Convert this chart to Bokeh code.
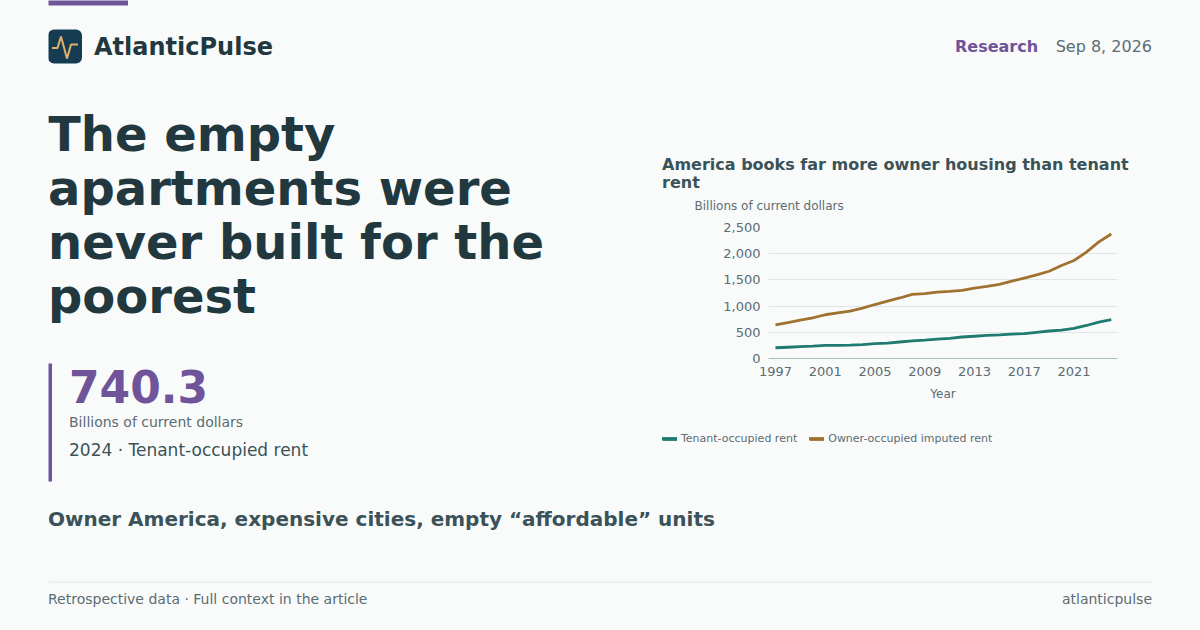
from bokeh.core.properties import value
from bokeh.embed import file_html
from bokeh.layouts import column
from bokeh.models import FixedTicker, GlobalInlineStyleSheet, Legend, LegendItem, NumeralTickFormatter, Range1d
from bokeh.plotting import figure
from bokeh.resources import INLINE

years = list(range(1997, 2025))
tenant_rent = [205, 215, 225, 235, 250, 252, 255, 265, 285, 295, 315, 335, 350, 370,
               385, 410, 425, 440, 450, 465, 475, 500, 525, 540, 575, 630, 695, 740.3]
owner_rent = [640, 685, 730, 775, 835, 870, 905, 960, 1030, 1095, 1155, 1225, 1240, 1265,
              1280, 1300, 1345, 1375, 1415, 1475, 1535, 1595, 1665, 1775, 1870, 2030, 2225, 2375]
year_ticks = [1997, 2001, 2005, 2009, 2013, 2017, 2021]
value_ticks = [0, 500, 1000, 1500, 2000, 2500]

headline = ["The empty", "apartments were", "never built for the", "poorest"]
chart_title = ["America books far more owner housing than tenant", "rent"]

BG = "#f9fbfb"
INK = "#22383f"
SLATE = "#3a5258"
GREY = "#5b6c72"
PURPLE = "#6f5499"
TEAL = "#1f7a6f"
BROWN = "#a0722f"
FONT = "DejaVu Sans"


def page_text(p, x, y, text, size, color, style="normal", align="left"):
    p.text([x], [y], text=[text], text_font=value(FONT), text_font_size=size, text_color=color,
           text_font_style=style, text_align=align, text_baseline="middle")


# whole page as one figure in pixel coordinates, column() keeps its side borders equal to the chart's
page = figure(width=1200, height=630, x_range=Range1d(48.5, 1154.5), y_range=Range1d(631, 1),
              output_backend="svg", toolbar_location=None,
              min_border_left=48, min_border_right=46, min_border_top=0, min_border_bottom=0,
              background_fill_color=BG, border_fill_color=BG, outline_line_color=None)
page.axis.visible = False
page.grid.visible = False
page.stylesheets = [GlobalInlineStyleSheet(css="html, body {margin: 0; background: %s; overflow: hidden;}" % BG)]

page.quad(left=[48], right=[128], top=[0], bottom=[6], fill_color=PURPLE, line_color=None)
page.rect([65], [47], width=[34], height=[34], fill_color="#163c52", line_color=None, border_radius=6)
page.line([52, 57.5, 61, 67, 71, 78], [48.5, 48.5, 37, 59, 45, 45], line_color="#e0b26c", line_width=2)
page_text(page, 94, 47, "AtlanticPulse", "24px", INK, "bold")
page_text(page, 955, 47, "Research", "16px", PURPLE, "bold")
page_text(page, 1152, 47, "Sep 8, 2026", "16px", GREY, align="right")

for i, line in enumerate(headline):
    page_text(page, 48, 134 + 54 * i, line, "48px", INK, "bold")

page.quad(left=[48], right=[52], top=[364], bottom=[482], fill_color=PURPLE, line_color=None)
page_text(page, 69, 387, "740.3", "44px", PURPLE, "bold")
page_text(page, 69, 422, "Billions of current dollars", "14px", GREY)
page_text(page, 69, 450, "2024 · Tenant-occupied rent", "17px", SLATE)
page_text(page, 48, 519, "Owner America, expensive cities, empty “affordable” units", "20px", SLATE, "bold")

page.line([48, 1152], [582.5, 582.5], line_color="#e2e7e8", line_width=1)
page_text(page, 48, 599, "Retrospective data · Full context in the article", "14px", GREY)
page_text(page, 1152, 599, "atlanticpulse", "14px", GREY, align="right")

for i, line in enumerate(chart_title):
    page_text(page, 662, 165 + 18 * i, line, "16px", SLATE, "bold")
page_text(page, 694.5, 206, "Billions of current dollars", "12px", GREY)

# chart figure laid over the page
p = figure(width=443, height=188, x_range=Range1d(1996.44, 2024.5), y_range=Range1d(0, 2500),
           output_backend="svg", toolbar_location=None,
           min_border_left=48, min_border_right=46, min_border_top=7, min_border_bottom=50,
           background_fill_alpha=0, border_fill_alpha=0, outline_line_color=None,
           margin=(-410, 0, 0, 720))

p.line(years, tenant_rent, line_color=TEAL, line_width=2.8)
p.line(years, owner_rent, line_color=BROWN, line_width=2.8)

p.xaxis.ticker = FixedTicker(ticks=year_ticks)
p.yaxis.ticker = FixedTicker(ticks=value_ticks)
p.yaxis.formatter = NumeralTickFormatter(format="0,0")
p.xaxis.axis_label = "Year"
p.xaxis.axis_label_text_font = FONT
p.xaxis.axis_label_text_font_style = "normal"
p.xaxis.axis_label_text_font_size = "12px"
p.xaxis.axis_label_text_color = GREY
p.xaxis.axis_label_standoff = 8
p.axis.major_label_text_font = FONT
p.axis.major_label_text_font_size = "13px"
p.axis.major_label_text_color = GREY
p.axis.major_label_standoff = 8
p.axis.major_tick_out = 0
p.axis.major_tick_line_color = None
p.axis.minor_tick_line_color = None
p.yaxis.axis_line_color = None
p.xaxis.axis_line_color = "#a9bdb8"
p.xgrid.visible = False
p.ygrid.grid_line_color = "#e0e5e5"

# the legend sits on the page figure, its keys drawn there as short lines
tenant_key = page.line([662, 677], [439, 439], line_color=TEAL, line_width=2.8)
owner_key = page.line([809, 824], [439, 439], line_color=BROWN, line_width=2.8)
legend = Legend(items=[LegendItem(label="Tenant-occupied rent", renderers=[tenant_key]),
                       LegendItem(label="Owner-occupied imputed rent", renderers=[owner_key])],
                orientation="horizontal", location=(614, 185), background_fill_alpha=0, border_line_color=None,
                label_text_font=FONT, label_text_font_size="11px", label_text_color=GREY,
                glyph_width=15, glyph_height=10, padding=0, margin=0, spacing=12, label_standoff=4)
page.add_layout(legend)

root = column(page, p, spacing=0)
open("out.html", "w").write(file_html(root, INLINE))
